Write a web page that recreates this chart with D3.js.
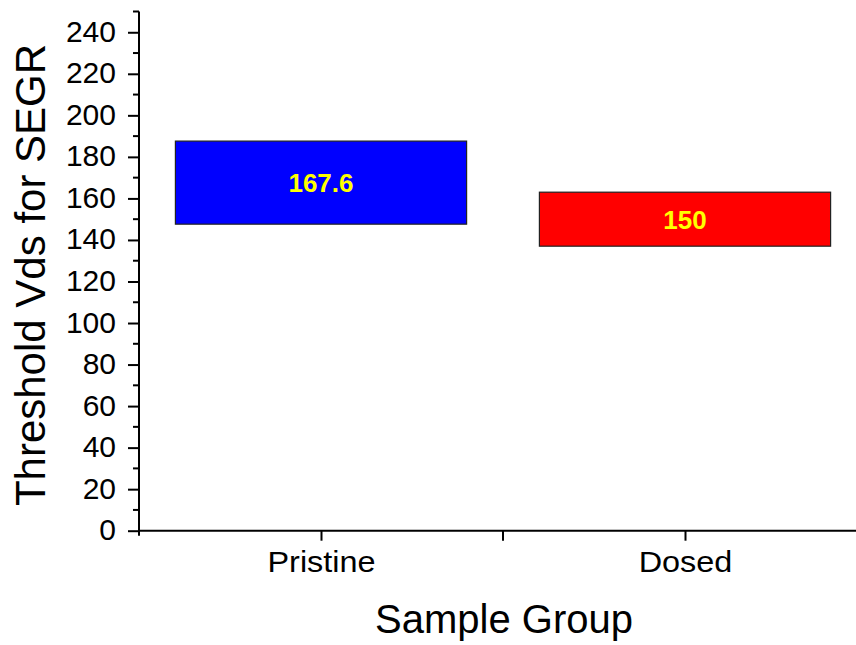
<!DOCTYPE html>
<html><head><meta charset="utf-8">
<script src="https://cdn.jsdelivr.net/npm/d3@7"></script>
<style>body{margin:0;background:#fff}svg{display:block}text{font-family:"Liberation Sans",Arial,sans-serif}</style>
</head><body>
<script>
const categories = ["Pristine", "Dosed"];
const means = [167.6, 150];
const lows = [147.6, 137];
const highs = [187.6, 163];
const barColors = ["#0000ff", "#ff0000"];
const yTicks = [0,20,40,60,80,100,120,140,160,180,200,220,240];
const yTitle = "Threshold Vds for SEGR";
const xTitle = "Sample Group";

const W = 856, H = 645;
const FONT = "Liberation Sans, Arial, sans-serif";
const svg = d3.select("body").append("svg").attr("width", W).attr("height", H);

const x = d3.scaleLinear().domain([0.5, 2.5]).range([139, 867]);
const y = d3.scaleLinear().domain([0, 250]).range([530.7, 11.5]);

// bars
const bw = x(1.4) - x(0.6);
svg.selectAll("rect.bar").data(categories).enter().append("rect")
  .attr("x", (d,i) => x(i+1) - bw/2)
  .attr("y", (d,i) => y(highs[i]))
  .attr("width", bw)
  .attr("height", (d,i) => y(lows[i]) - y(highs[i]))
  .attr("fill", (d,i) => barColors[i])
  .attr("stroke", "#222").attr("stroke-width", 1.2);

svg.selectAll("text.val").data(categories).enter().append("text")
  .attr("x", (d,i) => x(i+1))
  .attr("y", (d,i) => y(means[i]))
  .attr("dy", "0.36em")
  .attr("text-anchor", "middle")
  .attr("font-size", 26).attr("font-weight", "bold")
  .attr("fill", "#ffff00")
  .text((d,i) => String(means[i]));

// y axis
const yAxis = d3.axisLeft(y).tickValues(yTicks).tickSize(11).tickPadding(12).tickFormat(d3.format("d"));
const gy = svg.append("g").attr("transform", "translate(139,0)").call(yAxis);
gy.attr("font-family", FONT);
gy.select(".domain").remove();
gy.selectAll(".tick line").attr("stroke", "#000").attr("stroke-width", 2);
gy.selectAll(".tick text").attr("font-size", 30).attr("fill", "#000").attr("dy", "0.3em")
  .attr("font-family", FONT);
const minor = d3.range(10, 251, 20);
svg.append("g").selectAll("line").data(minor).enter().append("line")
  .attr("x1", 133).attr("x2", 139).attr("y1", d => y(d)).attr("y2", d => y(d))
  .attr("stroke", "#000").attr("stroke-width", 2);
svg.append("line").attr("x1", 139).attr("x2", 139).attr("y1", y(250)).attr("y2", y(0) + 1)
  .attr("stroke", "#000").attr("stroke-width", 2);

// x axis
const xAxis = d3.axisBottom(x).tickValues([1, 2]).tickSize(10).tickPadding(10).tickFormat((d) => categories[d-1]);
const gx = svg.append("g").attr("transform", `translate(0,${y(0)})`).call(xAxis);
gx.attr("font-family", FONT);
gx.select(".domain").remove();
gx.selectAll(".tick line").attr("stroke", "#000").attr("stroke-width", 2);
gx.selectAll(".tick text").attr("font-size", 30).attr("fill", "#000")
  .attr("font-family", FONT).attr("transform", "scale(1.08,1)");
svg.append("g").selectAll("line").data([0.5, 1.5]).enter().append("line")
  .attr("x1", d => x(d)).attr("x2", d => x(d)).attr("y1", y(0)).attr("y2", d => y(0) + (d === 0.5 ? 5 : 10))
  .attr("stroke", "#000").attr("stroke-width", 2);
svg.append("line").attr("x1", 138).attr("x2", W).attr("y1", y(0)).attr("y2", y(0))
  .attr("stroke", "#000").attr("stroke-width", 2);

// titles
svg.append("text").attr("transform", "translate(45,275) rotate(-90)")
  .attr("text-anchor", "middle").attr("font-size", 42).attr("fill", "#000").text(yTitle);
svg.append("text").attr("transform", "translate(504,633)")
  .attr("text-anchor", "middle").attr("font-size", 40).attr("fill", "#000").text(xTitle);
</script>
</body></html>
